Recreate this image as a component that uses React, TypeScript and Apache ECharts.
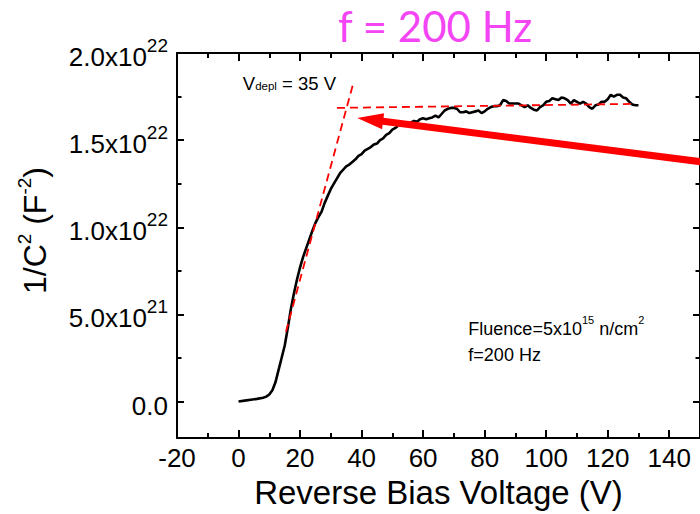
import React, { useEffect, useRef } from 'react';
import * as echarts from 'echarts';

// Reverse bias voltage (V)
const VOLTAGE = [
  0, 2, 4, 6, 8, 9, 10, 11, 12, 13, 14, 15, 16, 17, 18, 19, 20, 21, 22, 23, 24, 25, 26, 27, 28, 29,
  30, 31, 32, 33, 34, 35, 36, 37, 38, 39, 40, 41, 42, 43, 44, 45, 46, 47, 48, 49, 50, 51, 52, 53,
  54, 55, 56, 57, 58, 59, 60, 61, 62, 63, 64, 65, 66, 67, 68, 69, 70, 71, 72, 73, 74, 75, 76, 77,
  78, 79, 80, 81, 82, 83, 84, 85, 86, 87, 88, 89, 90, 91, 92, 93, 94, 95, 96, 97, 98, 99, 100, 101,
  102, 103, 104, 105, 106, 107, 108, 109, 110, 111, 112, 113, 114, 115, 116, 117, 118, 119, 120,
  121, 122, 123, 124, 125, 126, 127, 128, 129, 130,
];
// 1/C^2 in units of 1e21 F^-2
const INV_C2 = [
  0.0, 0.05, 0.1, 0.15, 0.22, 0.28, 0.4, 0.65, 1.1, 1.8, 2.5, 3.2, 4.2, 5.3, 6.2, 7.0, 7.7, 8.3, 8.8, 9.3, 9.8, 10.25, 10.6, 10.9, 11.4, 11.8,
  12.2, 12.5, 12.8, 13.1, 13.3, 13.5, 13.6, 13.75, 13.9, 14.1, 14.2, 14.4, 14.5, 14.6, 14.75, 14.8, 15.0, 15.1, 15.3, 15.4, 15.6, 15.7, 15.85, 15.95,
  16.0, 15.95, 16.0, 16.1, 16.05, 16.2, 16.25, 16.2, 16.25, 16.3, 16.4, 16.3, 16.5, 16.7, 16.8, 16.85, 16.85, 16.8, 16.6, 16.6, 16.65, 16.55, 16.6, 16.65,
  16.7, 16.55, 16.65, 16.8, 16.9, 16.95, 16.95, 17.0, 17.3, 17.25, 17.1, 17.1, 17.1, 17.1, 17.0, 16.9, 17.0, 16.85, 16.75, 16.7, 16.9, 17.0, 17.2, 17.25,
  17.4, 17.35, 17.3, 17.45, 17.4, 17.3, 17.1, 17.3, 17.2, 17.1, 17.2, 17.1, 16.9, 16.8, 17.0, 17.05, 17.2, 17.2, 17.35,
  17.6, 17.5, 17.6, 17.6, 17.45, 17.4, 17.2, 17.05, 17.0, 17.0,
];

// Linear fits (dashed red)
const FIT_STEEP_X = [15.4, 37.2];
const FIT_STEEP_Y = [4.0, 18.2];
const FIT_FLAT_X = [32, 128.5];
const FIT_FLAT_Y = [16.85, 17.08];

// Axis ticks
const X_MIN = -20;
const X_MAX = 150;
const Y_MIN = -2.1;
const Y_MAX = 20;
const X_MAJOR = [-20, 0, 20, 40, 60, 80, 100, 120, 140];
const X_MINOR = [-10, 10, 30, 50, 70, 90, 110, 130];
const Y_MAJOR = [0, 5, 10, 15, 20];
const Y_MINOR = [2.5, 7.5, 12.5, 17.5];
const Y_MANTISSA = ['0.0', '5.0', '1.0', '1.5', '2.0'];
const Y_EXPONENT = ['', '21', '22', '22', '22'];

// Annotations (data coordinates)
const ARROW_FROM = [152, 13.72];
const ARROW_TO = [38.6, 16.27];
const VDEPL_POS = [1.4, 18.8];
const FLUENCE_POS = [74.7, 5.1];

const FONT = 'Liberation Sans, Arial, sans-serif';

export default function App() {
  const ref = useRef<HTMLDivElement>(null);

  useEffect(() => {
    document.body.style.margin = '0';
    if (!ref.current) return;
    const chart = echarts.init(ref.current, null, { renderer: 'svg' });

    const lineStyle = { color: '#000', width: 2 };
    const xBase = { type: 'value', min: X_MIN, max: X_MAX, splitLine: { show: false } };
    const yBase = { type: 'value', min: Y_MIN, max: Y_MAX, splitLine: { show: false } };

    const xAxes = [
      {
        ...xBase,
        position: 'bottom',
        axisLine: { show: true, onZero: false, lineStyle },
        axisTick: { show: true, inside: true, length: 8, customValues: X_MAJOR, lineStyle },
        axisLabel: { show: true, customValues: X_MAJOR, margin: 7, fontSize: 26, lineHeight: 26, color: '#000', fontFamily: FONT },
        name: 'Reverse Bias Voltage (V)',
        nameLocation: 'middle',
        nameGap: 33,
        nameTextStyle: { fontSize: 33, lineHeight: 33, color: '#000', fontFamily: FONT },
      },
      {
        ...xBase,
        position: 'bottom',
        axisLine: { show: false, onZero: false },
        axisTick: { show: true, inside: true, length: 5, customValues: X_MINOR, lineStyle },
        axisLabel: { show: false },
      },
      {
        ...xBase,
        position: 'top',
        axisLine: { show: true, onZero: false, lineStyle },
        axisTick: { show: true, inside: true, length: 8, customValues: X_MAJOR, lineStyle },
        axisLabel: { show: false },
      },
      {
        ...xBase,
        position: 'top',
        axisLine: { show: false, onZero: false },
        axisTick: { show: true, inside: true, length: 5, customValues: X_MINOR, lineStyle },
        axisLabel: { show: false },
      },
    ];

    const yAxes = [
      {
        ...yBase,
        position: 'left',
        axisLine: { show: true, onZero: false, lineStyle },
        axisTick: { show: true, inside: true, length: 7, customValues: Y_MAJOR, lineStyle },
        axisLabel: {
          show: true,
          customValues: Y_MAJOR,
          margin: 9,
          formatter: (v: number) => {
            const i = Y_MAJOR.findIndex((t) => Math.abs(t - v) < 1e-9);
            if (i < 0) return '';
            return Y_EXPONENT[i] ? `{m|${Y_MANTISSA[i]}x10}{s|${Y_EXPONENT[i]}}` : `{m|${Y_MANTISSA[i]}}`;
          },
          rich: {
            m: { fontSize: 26, lineHeight: 34, verticalAlign: 'bottom', color: '#000', fontFamily: FONT },
            s: { fontSize: 19, lineHeight: 19, verticalAlign: 'top', color: '#000', fontFamily: FONT },
          },
        },
        name: '{m|1/C}{s|2}{m| (F}{s|-2}{m|)}',
        nameLocation: 'middle',
        nameGap: 126,
        nameTextStyle: {
          padding: [0, 0, 0, 30],
          rich: {
            m: { fontSize: 32, lineHeight: 36, verticalAlign: 'bottom', color: '#000', fontFamily: FONT },
            s: { fontSize: 19, lineHeight: 19, verticalAlign: 'top', color: '#000', fontFamily: FONT },
          },
        },
      },
      {
        ...yBase,
        position: 'left',
        axisLine: { show: false, onZero: false },
        axisTick: { show: true, inside: true, length: 4.5, customValues: Y_MINOR, lineStyle },
        axisLabel: { show: false },
      },
      {
        ...yBase,
        position: 'right',
        axisLine: { show: true, onZero: false, lineStyle },
        axisTick: { show: true, inside: true, length: 7, customValues: Y_MAJOR, lineStyle },
        axisLabel: { show: false },
      },
      {
        ...yBase,
        position: 'right',
        axisLine: { show: false, onZero: false },
        axisTick: { show: true, inside: true, length: 4.5, customValues: Y_MINOR, lineStyle },
        axisLabel: { show: false },
      },
    ];

    const dashed = { color: '#FF0000', width: 1.8, type: [8, 5] };

    chart.setOption({
      animation: false,
      backgroundColor: '#fff',
      title: {
        text: 'f = 200 Hz',
        left: 338,
        top: 5,
        padding: 0,
        textStyle: { fontFamily: 'Lato', fontSize: 42, lineHeight: 42, fontWeight: 'normal', color: '#F445F4' },
      },
      grid: { left: 177, right: -3, top: 53, bottom: 74 },
      xAxis: xAxes,
      yAxis: yAxes,
      series: [
        {
          type: 'line',
          xAxisIndex: 0,
          yAxisIndex: 0,
          data: VOLTAGE.map((v, i) => [v, INV_C2[i]]),
          showSymbol: false,
          symbol: 'none',
          lineStyle: { color: '#000', width: 2.6 },
          z: 3,
        },
        {
          type: 'line',
          xAxisIndex: 0,
          yAxisIndex: 0,
          data: FIT_STEEP_X.map((v, i) => [v, FIT_STEEP_Y[i]]),
          showSymbol: false,
          symbol: 'none',
          lineStyle: dashed,
          z: 4,
        },
        {
          type: 'line',
          xAxisIndex: 0,
          yAxisIndex: 0,
          data: FIT_FLAT_X.map((v, i) => [v, FIT_FLAT_Y[i]]),
          showSymbol: false,
          symbol: 'none',
          lineStyle: dashed,
          z: 4,
        },
      ],
    });

    const px = (d: number[]) => chart.convertToPixel({ seriesIndex: 0 }, d) as number[];
    const S = px(ARROW_FROM);
    const T = px(ARROW_TO);
    const len = Math.hypot(T[0] - S[0], T[1] - S[1]);
    const dx = (T[0] - S[0]) / len;
    const dy = (T[1] - S[1]) / len;
    const nx = -dy;
    const ny = dx;
    const L = 26;
    const W = 8;
    const B = [T[0] - dx * L, T[1] - dy * L];
    const vd = px(VDEPL_POS);
    const fl = px(FLUENCE_POS);

    chart.setOption({
      graphic: [
        {
          type: 'line',
          z: 20,
          shape: { x1: S[0], y1: S[1], x2: B[0] + dx * 4, y2: B[1] + dy * 4 },
          style: { stroke: '#FF0000', lineWidth: 7 },
        },
        {
          type: 'polygon',
          z: 20,
          shape: { points: [[T[0], T[1]], [B[0] + nx * W, B[1] + ny * W], [B[0] - nx * W, B[1] - ny * W]] },
          style: { fill: '#FF0000' },
        },
        {
          type: 'text',
          z: 20,
          x: vd[0],
          y: vd[1],
          style: {
            text: '{m|V}{sub|depl}{m| = 35 V}',
            align: 'left',
            verticalAlign: 'top',
            rich: {
              m: { fontSize: 18.5, lineHeight: 18, verticalAlign: 'top', fill: '#000', fontFamily: FONT },
              sub: { fontSize: 11.5, lineHeight: 11, verticalAlign: 'bottom', padding: [14, 0, 0, 0], fill: '#000', fontFamily: FONT },
            },
          },
        },
        {
          type: 'text',
          z: 20,
          x: fl[0],
          y: fl[1],
          style: {
            text: '{m|Fluence=5x10}{s|15}{m| n/cm}{s|2}\n{m|f=200 Hz}',
            align: 'left',
            verticalAlign: 'top',
            rich: {
              m: { fontSize: 18, lineHeight: 25.6, verticalAlign: 'bottom', fill: '#000', fontFamily: FONT },
              s: { fontSize: 11, lineHeight: 11, verticalAlign: 'top', padding: [2, 0, 0, 0], fill: '#000', fontFamily: FONT },
            },
          },
        },
      ],
    });

    return () => chart.dispose();
  }, []);

  return <div ref={ref} style={{ width: 700, height: 514 }} />;
}
